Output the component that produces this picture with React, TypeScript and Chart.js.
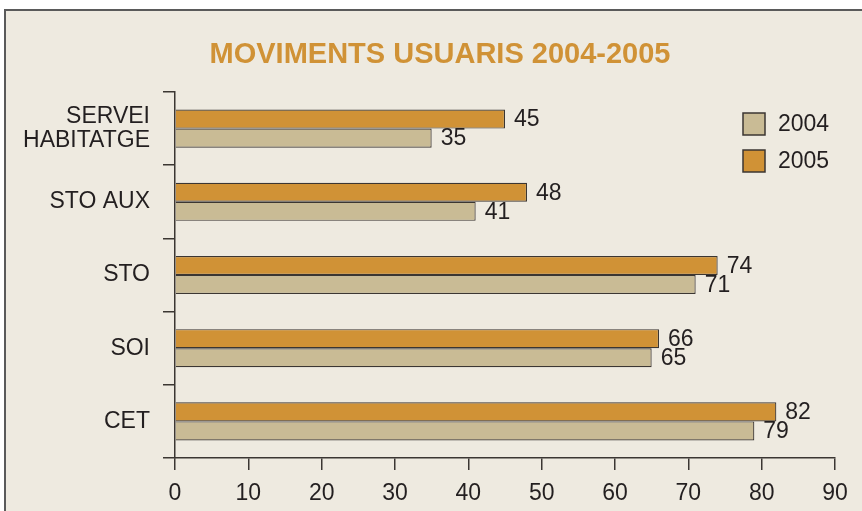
import React, { useEffect, useRef } from "react";
import { Chart, registerables } from "chart.js";

Chart.register(...registerables);

const title = "MOVIMENTS USUARIS 2004-2005";
const categories: (string | string[])[] = [["SERVEI", "HABITATGE"], "STO AUX", "STO", "SOI", "CET"];
const values2005 = [45, 48, 74, 66, 82];
const values2004 = [35, 41, 71, 65, 79];
const xTicks = { min: 0, max: 90, step: 10 };

const ORANGE = "#d09236";
const TAN = "#c9bb95";
const DARK = "#3b3632";
const TEXT = "#231f20";
const BG = "#eeeae0";
const FONT = "'Liberation Sans', Arial, Helvetica, sans-serif";

const overlayPlugin = {
  id: "overlay",
  afterDatasetsDraw(chart: any) {
    const ctx = chart.ctx;
    ctx.save();
    // value labels
    ctx.font = `23px ${FONT}`;
    ctx.fillStyle = TEXT;
    ctx.textAlign = "left";
    ctx.textBaseline = "middle";
    chart.data.datasets.forEach((ds: any, di: number) => {
      const meta = chart.getDatasetMeta(di);
      meta.data.forEach((el: any, i: number) => {
        ctx.fillText(String(ds.data[i]), el.x + 9, el.y + 1);
      });
    });
    // title
    ctx.font = `bold 29px ${FONT}`;
    ctx.fillStyle = ORANGE;
    ctx.textAlign = "center";
    ctx.fillText(title, 440, 55);
    // legend (2004 first, then 2005)
    const order = [...chart.data.datasets].reverse();
    order.forEach((ds: any, i: number) => {
      const y = 113 + i * 37;
      ctx.fillStyle = ds.backgroundColor;
      ctx.fillRect(743, y, 22, 22);
      ctx.strokeStyle = DARK;
      ctx.lineWidth = 1.5;
      ctx.strokeRect(743, y, 22, 22);
      ctx.fillStyle = TEXT;
      ctx.font = `23px ${FONT}`;
      ctx.textAlign = "left";
      ctx.fillText(ds.label, 778, y + 12);
    });
    ctx.restore();
  },
};

export default function App() {
  const ref = useRef<HTMLCanvasElement>(null);
  useEffect(() => {
    document.body.style.margin = "0";
    Chart.defaults.font.family = FONT;
    const chart = new Chart(ref.current!, {
      type: "bar",
      data: {
        labels: categories as any,
        datasets: [
          {
            label: "2005",
            data: values2005,
            backgroundColor: ORANGE,
            borderColor: DARK,
            borderWidth: 1.2,
            categoryPercentage: 0.52,
            barPercentage: 1,
          },
          {
            label: "2004",
            data: values2004,
            backgroundColor: TAN,
            borderColor: DARK,
            borderWidth: 1.2,
            categoryPercentage: 0.52,
            barPercentage: 1,
          },
        ],
      },
      options: {
        indexAxis: "y",
        responsive: false,
        animation: false,
        devicePixelRatio: 1,
        layout: { padding: { left: 0, top: 92, right: 27, bottom: 0 } },
        plugins: {
          legend: { display: false },
          title: { display: false },
          tooltip: { enabled: false },
        },
        scales: {
          y: {
            type: "category",
            grid: { drawOnChartArea: false, tickLength: 12, color: DARK, lineWidth: 1.5, offset: true },
            border: { color: DARK, width: 1.5 },
            ticks: { color: TEXT, font: { size: 23, lineHeight: 1.05 }, padding: 13 },
            afterFit: (s: any) => {
              s.width = 175;
            },
          },
          x: {
            type: "linear",
            min: xTicks.min,
            max: xTicks.max,
            grid: { drawOnChartArea: false, tickLength: 12, color: DARK, lineWidth: 1.5 },
            border: { color: DARK, width: 1.5 },
            ticks: { stepSize: xTicks.step, color: TEXT, font: { size: 23 }, padding: 10 },
            afterFit: (s: any) => {
              s.height = 53;
            },
          },
        },
      },
      plugins: [overlayPlugin],
    } as any);
    return () => chart.destroy();
  }, []);

  return (
    <div style={{ position: "relative", width: 862, height: 511, overflow: "hidden", background: "#fff" }}>
      <div
        style={{
          position: "absolute",
          left: 4,
          top: 9,
          width: 900,
          height: 600,
          borderLeft: "2px solid #5a5a5a",
          borderTop: "2px solid #5a5a5a",
          background: BG,
        }}
      />
      <canvas ref={ref} width={862} height={511} style={{ position: "absolute", left: 0, top: 0 }} />
    </div>
  );
}
